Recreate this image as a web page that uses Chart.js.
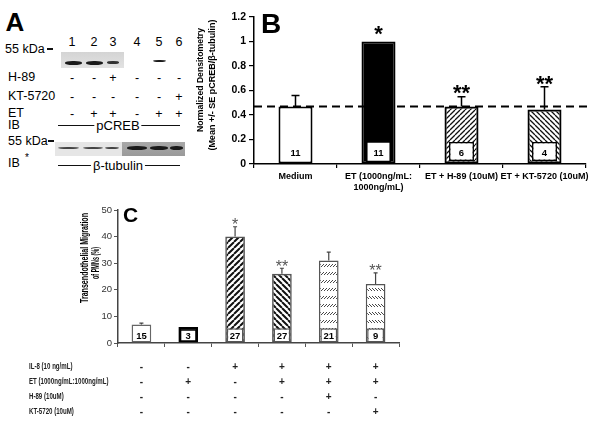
<!DOCTYPE html>
<html><head><meta charset="utf-8">
<script src="https://cdn.jsdelivr.net/npm/chart.js@4.4.0/dist/chart.umd.min.js"></script>
<style>
html,body{margin:0;padding:0;background:#fff;}
body{width:600px;height:428px;position:relative;overflow:hidden;font-family:"Liberation Sans",Arial,sans-serif;color:#000;}
canvas{position:absolute;}
#cb{left:195px;top:0;}
#cc{left:0;top:200px;}
.t{position:absolute;white-space:nowrap;line-height:1;font-size:12.5px;color:#000;}
.l{transform:translateY(-50%);}
.c{transform:translate(-50%,-50%);}
.ln{position:absolute;background:#111;}
.blot{position:absolute;}
.band{position:absolute;background:#1a1a1a;border-radius:45%;filter:blur(0.5px);}
</style></head>
<body>
<!-- Panel A (western blot) -->
<div class="t c" style="left:15px;top:22px;font-weight:bold;font-size:26px;">A</div>
<div class="t l" style="left:5px;top:49px;">55 kDa</div>
<div class="ln" style="left:47px;top:48px;width:6px;height:1.5px;"></div>
<div class="t c" style="left:72px;top:42px;">1</div>
<div class="t c" style="left:94px;top:42px;">2</div>
<div class="t c" style="left:113px;top:42px;">3</div>
<div class="t c" style="left:137px;top:42px;">4</div>
<div class="t c" style="left:159px;top:42px;">5</div>
<div class="t c" style="left:179px;top:42px;">6</div>
<div class="blot" style="left:61px;top:52px;width:63px;height:16px;background:linear-gradient(#d4d4d4,#e2e2e2);"></div>
<div class="band" style="left:65px;top:61px;width:17px;height:4px;"></div>
<div class="band" style="left:86px;top:61px;width:17px;height:4px;"></div>
<div class="band" style="left:107px;top:61px;width:12px;height:3px;background:#333;"></div>
<div class="band" style="left:153px;top:60px;width:13px;height:2px;"></div>
<div class="t l" style="left:8px;top:77px;">H-89</div>
<div class="t c" style="left:72px;top:78px;">-</div><div class="t c" style="left:94px;top:78px;">-</div><div class="t c" style="left:113px;top:78px;">+</div><div class="t c" style="left:137px;top:78px;">-</div><div class="t c" style="left:159px;top:78px;">-</div><div class="t c" style="left:179px;top:78px;">-</div>
<div class="t l" style="left:8px;top:96px;">KT-5720</div>
<div class="t c" style="left:72px;top:97px;">-</div><div class="t c" style="left:94px;top:97px;">-</div><div class="t c" style="left:113px;top:97px;">-</div><div class="t c" style="left:137px;top:97px;">-</div><div class="t c" style="left:159px;top:97px;">-</div><div class="t c" style="left:179px;top:97px;">+</div>
<div class="t l" style="left:8px;top:113px;">ET</div>
<div class="t c" style="left:72px;top:114px;">-</div><div class="t c" style="left:94px;top:114px;">+</div><div class="t c" style="left:113px;top:114px;">+</div><div class="t c" style="left:137px;top:114px;">-</div><div class="t c" style="left:159px;top:114px;">+</div><div class="t c" style="left:179px;top:114px;">+</div>
<div class="t l" style="left:8px;top:125px;">IB</div>
<div class="ln" style="left:58px;top:125px;width:122px;height:1.3px;"></div>
<div class="t c" style="left:118px;top:125px;background:#fff;padding:0 2px;font-size:13px;">pCREB</div>
<div class="t l" style="left:8px;top:141px;">55 kDa</div>
<div class="ln" style="left:48px;top:140px;width:6px;height:1.5px;"></div>
<div class="blot" style="left:55px;top:142px;width:67px;height:14px;background:#e6e6e6;"></div>
<div class="blot" style="left:122px;top:142px;width:63px;height:14px;background:linear-gradient(#a8a8a8,#9a9a9a);"></div>
<div class="band" style="left:58px;top:147px;width:21px;height:2px;background:#444;"></div>
<div class="band" style="left:83px;top:147px;width:20px;height:2px;background:#444;"></div>
<div class="band" style="left:105px;top:147px;width:14px;height:2px;background:#444;"></div>
<div class="band" style="left:127px;top:146px;width:20px;height:4px;"></div>
<div class="band" style="left:150px;top:146px;width:18px;height:4px;"></div>
<div class="band" style="left:170px;top:146px;width:13px;height:4px;"></div>
<div class="t l" style="left:8px;top:163px;">IB</div>
<div class="t l" style="left:25px;top:158px;font-size:10px;">*</div>
<div class="ln" style="left:58px;top:165px;width:122px;height:1.3px;"></div>
<div class="t c" style="left:118px;top:165px;background:#fff;padding:0 2px;font-size:13px;">β-tubulin</div>

<canvas id="cb" width="405" height="200"></canvas>
<canvas id="cc" width="600" height="228"></canvas>
<script>
// ---------- Panel B data ----------
const bLabels = ['Medium', ['ET (1000ng/mL:', '1000ng/mL)'], 'ET + H-89 (10uM)', 'ET + KT-5720 (10uM)'];
const bMeans = [0.47, 1.0, 0.47, 0.445];
const bErrors = [0.09, 0, 0.08, 0.185];
const bCounts = ['11', '11', '6', '4'];
const bStars = ['', '*', '**', '**'];
const bBoxLow = [null, 0.015, 0.025, 0.025];
const bBoxHigh = [null, 0.185, 0.18, 0.18];
const bBaseline = 0.47;
const bTickLabels = ['0', '0.2', '0.4', '0.6', '0.8', '1', '1.2'];
const bTitle = ['Normalized Densitometry', '(Mean +/- SE pCREB/\u03b2-tubulin)'];

// ---------- Panel C data ----------
const cLabels = ['1', '2', '3', '4', '5', '6'];
const cMeans = [7, 6, 40, 26, 31, 22.2];
const cErrors = [0.5, 0, 3.7, 2.1, 3.2, 4.2];
const cCounts = ['15', '3', '27', '27', '21', '9'];
const cStars = ['', '', '*', '**', '', '**'];
const cBoxLow = [null, 0.5, 0, 0, 0, 0];
const cBoxHigh = [null, 5.2, 5.5, 5.5, 5.5, 5.5];
const cTickLabels = ['0','5','10','15','20','25','30','35','40','45','50'];
const cTitle = ['Transendothelial Migration', 'of PMNs (%)'];
const cRowLabels = ['IL-8 (10 ng/mL)', 'ET (1000ng/mL:1000ng/mL)', 'H-89 (10uM)', 'KT-5720 (10uM)'];
const cRows = [
  ['-', '-', '+', '+', '+', '+'],
  ['-', '+', '-', '+', '+', '+'],
  ['-', '-', '-', '-', '+', '-'],
  ['-', '-', '-', '-', '-', '+']
];

const FONT = '"Liberation Sans", Arial, sans-serif';

function diagPattern(size, lw, color, dir) {
  const c = document.createElement('canvas'); c.width = size; c.height = size;
  const x = c.getContext('2d');
  x.strokeStyle = color; x.lineWidth = lw;
  x.beginPath();
  for (let k = -1; k <= 1; k++) {
    if (dir > 0) { x.moveTo(k * size, size); x.lineTo(k * size + size, 0); }
    else { x.moveTo(k * size, 0); x.lineTo(k * size + size, size); }
  }
  x.stroke();
  return x.createPattern(c, 'repeat');
}
function rowPattern(w, h, dash, lw, color, dir) {
  const c = document.createElement('canvas'); c.width = w; c.height = h;
  const x = c.getContext('2d');
  x.fillStyle = '#fff'; x.fillRect(0, 0, w, h);
  x.strokeStyle = color; x.lineWidth = lw;
  x.beginPath();
  if (dir > 0) { x.moveTo(0, dash); x.lineTo(w, 0); }
  else { x.moveTo(0, 0); x.lineTo(w, dash); }
  x.stroke();
  return x.createPattern(c, 'repeat');
}

function asteriskText(ctx, txt, x, yCenter, size, color, weight) {
  ctx.save();
  ctx.font = weight + ' ' + size + 'px ' + FONT;
  ctx.fillStyle = color; ctx.textAlign = 'center'; ctx.textBaseline = 'alphabetic';
  ctx.fillText(txt, x, yCenter + size * 0.58);
  ctx.restore();
}

function overlayPlugin(cfg) {
  return {
    id: 'overlay',
    afterDatasetsDraw(chart) {
      const ctx = chart.ctx;
      const y = chart.scales.y;
      const meta = chart.getDatasetMeta(1);
      const area = chart.chartArea;
      if (cfg.baseline != null) {
        ctx.save();
        ctx.strokeStyle = '#000'; ctx.lineWidth = 2; ctx.setLineDash([8, 5]);
        const yy = y.getPixelForValue(cfg.baseline);
        ctx.beginPath(); ctx.moveTo(area.left, yy); ctx.lineTo(area.right + 4, yy); ctx.stroke();
        ctx.restore();
      }
      cfg.means.forEach((m, i) => {
        const bar = meta.data[i];
        const x = bar.x;
        let topPx = y.getPixelForValue(m);
        let off = cfg.starOffsetBar;
        if (cfg.errors[i] > 0) {
          const ePx = y.getPixelForValue(m + cfg.errors[i]);
          ctx.save();
          ctx.strokeStyle = cfg.errColor; ctx.lineWidth = cfg.errWidth;
          ctx.beginPath();
          ctx.moveTo(x, topPx); ctx.lineTo(x, ePx);
          ctx.moveTo(x - cfg.cap, ePx); ctx.lineTo(x + cfg.cap, ePx);
          ctx.stroke(); ctx.restore();
          topPx = ePx;
          off = cfg.starOffset;
        }
        if (cfg.stars[i]) asteriskText(ctx, cfg.stars[i], x, topPx - off, cfg.starSize, cfg.starColor, cfg.starWeight);
        ctx.save();
        ctx.font = 'bold ' + cfg.countSize + 'px ' + FONT;
        ctx.fillStyle = '#000'; ctx.textAlign = 'center'; ctx.textBaseline = 'middle';
        ctx.fillText(cfg.counts[i], x, y.getPixelForValue(cfg.countAt));
        ctx.restore();
      });
    },
    afterDraw(chart) { cfg.extra && cfg.extra(chart); }
  };
}

// ---------- Chart B ----------
const hUp = diagPattern(5, 1.3, '#111', 1);
const hDown = diagPattern(5, 1.3, '#111', -1);
new Chart(document.getElementById('cb'), {
  type: 'bar',
  data: {
    labels: bLabels,
    datasets: [
      { data: bBoxLow.map((l, i) => l == null ? null : [l, bBoxHigh[i]]),
        backgroundColor: '#fff', borderColor: '#000', borderWidth: 1.5, borderSkipped: false,
        barPercentage: 0.3, categoryPercentage: 1, grouped: false, order: 0 },
      { data: bMeans,
        backgroundColor: ['#fff', '#000', hUp, hDown], borderColor: '#000', borderWidth: 2, borderSkipped: false,
        barPercentage: 0.41, categoryPercentage: 1, grouped: false, order: 1 }
    ]
  },
  options: {
    responsive: false, animation: false, devicePixelRatio: 1,
    layout: { padding: { top: 17, right: 14, left: 0, bottom: 0 } },
    plugins: { legend: { display: false }, tooltip: { enabled: false } },
    scales: {
      x: {
        grid: { display: true, drawOnChartArea: false, offset: true, tickLength: 4, color: '#000', lineWidth: 1.2 },
        border: { color: '#000', width: 1.5 },
        ticks: { color: '#000', font: { family: FONT, size: 9, weight: 'bold' }, maxRotation: 0, autoSkip: false, padding: 3 },
        afterFit(s) { s.height = 36; }
      },
      y: {
        min: 0, max: 1.2,
        ticks: { stepSize: 0.2, color: '#000', font: { family: FONT, size: 10.5, weight: 'bold' }, padding: 3,
                 callback: (v, i) => bTickLabels[i] },
        grid: { drawOnChartArea: false, tickLength: 5, color: '#000', lineWidth: 1.2 },
        border: { color: '#000', width: 1.5 },
        afterFit(s) { s.width = 59; }
      }
    }
  },
  plugins: [overlayPlugin({
    baseline: bBaseline, means: bMeans, errors: bErrors, stars: bStars, counts: bCounts,
    errColor: '#000', errWidth: 1.5, cap: 4, starOffset: 9, starOffsetBar: 13, starSize: 22, starColor: '#000', starWeight: 'bold',
    countSize: 9.5, countAt: 0.09,
    extra(chart) {
      const ctx = chart.ctx;
      ctx.save();
      ctx.fillStyle = '#000';
      ctx.font = 'bold 28px ' + FONT; ctx.textAlign = 'left'; ctx.textBaseline = 'alphabetic';
      ctx.fillText('B', 66, 33);
      ctx.font = 'bold 9px ' + FONT; ctx.textAlign = 'center'; ctx.textBaseline = 'middle';
      ctx.translate(6, 80); ctx.rotate(-Math.PI / 2);
      ctx.fillText(bTitle[0], 0, 0, 104);
      ctx.fillText(bTitle[1], -5, 12, 137);
      ctx.restore();
    }
  })]
});

// ---------- Chart C ----------
const cUp = diagPattern(6, 2, '#111', 1);
const cDown = diagPattern(6, 2, '#111', -1);
const cUpRows = rowPattern(3, 8, 3, 0.9, '#333', 1);
const cDownRows = rowPattern(3, 8, 3, 0.9, '#333', -1);
new Chart(document.getElementById('cc'), {
  type: 'bar',
  data: {
    labels: cLabels,
    datasets: [
      { data: cBoxLow.map((l, i) => l == null ? null : [l, cBoxHigh[i]]),
        backgroundColor: '#fff', borderColor: ['#555', '#000', '#555', '#555', '#555', '#555'], borderWidth: 1.5, borderSkipped: false,
        barPercentage: 0.36, categoryPercentage: 1, grouped: false, order: 0 },
      { data: cMeans,
        backgroundColor: ['#fff', '#000', cUp, cDown, cUpRows, cDownRows],
        borderColor: ['#666', '#000', '#555', '#555', '#555', '#555'], borderWidth: [1.5, 2.5, 1.5, 1.5, 1.5, 1.5], borderSkipped: false,
        barPercentage: 0.42, categoryPercentage: 1, grouped: false, order: 1 }
    ]
  },
  options: {
    responsive: false, animation: false, devicePixelRatio: 1,
    layout: { padding: { top: 10, right: 201, left: 0, bottom: 0 } },
    plugins: { legend: { display: false }, tooltip: { enabled: false } },
    scales: {
      x: {
        grid: { display: true, drawOnChartArea: false, offset: true, tickLength: 4, color: '#555', lineWidth: 1 },
        border: { color: '#444', width: 1.5 },
        ticks: { display: false },
        afterFit(s) { s.height = 85; }
      },
      y: {
        min: 0, max: 50,
        ticks: { stepSize: 5, color: '#333', font: { family: FONT, size: 9.5 }, padding: 2,
                 callback: (v, i) => cTickLabels[i] },
        grid: { drawOnChartArea: false, tickLength: 4, color: '#555', lineWidth: 1 },
        border: { color: '#444', width: 1.5 },
        afterFit(s) { s.width = 118; }
      }
    }
  },
  plugins: [overlayPlugin({
    baseline: null, means: cMeans, errors: cErrors, stars: cStars, counts: cCounts,
    errColor: '#444', errWidth: 1.2, cap: 2, starOffset: 6, starOffsetBar: 6, starSize: 16, starColor: '#555', starWeight: 'normal',
    countSize: 9.5, countAt: 2.6,
    extra(chart) {
      const ctx = chart.ctx;
      const xs = chart.scales.x;
      ctx.save();
      ctx.fillStyle = '#000';
      ctx.font = 'bold 21px ' + FONT; ctx.textAlign = 'left'; ctx.textBaseline = 'alphabetic';
      ctx.fillText('C', 123, 22);
      // y title
      ctx.save();
      ctx.font = 'bold 10px ' + FONT; ctx.textAlign = 'center'; ctx.textBaseline = 'middle';
      ctx.translate(85, 58); ctx.rotate(-Math.PI / 2);
      ctx.fillText(cTitle[0], 0, 0, 90);
      ctx.fillText(cTitle[1], -5, 11, 32);
      ctx.restore();
      // treatment table
      const rowY = [167, 182, 197, 212];
      ctx.fillStyle = '#222';
      cRowLabels.forEach((lab, r) => {
        ctx.save();
        ctx.font = 'bold 8.5px ' + FONT; ctx.textAlign = 'left'; ctx.textBaseline = 'middle';
        ctx.translate(29, rowY[r]); ctx.scale(0.72, 1);
        ctx.fillText(lab, 0, 0);
        ctx.restore();
        cRows[r].forEach((s, i) => {
          ctx.save();
          ctx.font = 'bold 10px ' + FONT; ctx.textAlign = 'center'; ctx.textBaseline = 'middle';
          ctx.fillText(s, xs.getPixelForValue(i), rowY[r]);
          ctx.restore();
        });
      });
      ctx.restore();
    }
  })]
});
</script>
</body></html>
